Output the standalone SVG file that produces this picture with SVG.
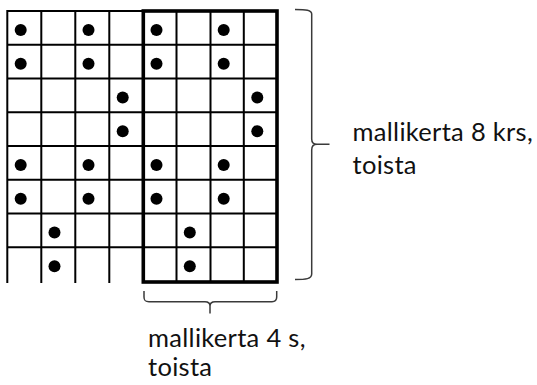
<svg xmlns="http://www.w3.org/2000/svg" width="537" height="385" viewBox="0 0 537 385">
<style>
.g{stroke:#000;stroke-width:2;fill:none}
.t{stroke:#000;stroke-width:3.6;fill:none}
.b{stroke:#3a3a3a;stroke-width:1.5;fill:none}
.d{fill:#000}
.lb{font-family:Lato,"Liberation Sans",sans-serif;font-size:25.5px;letter-spacing:0.3px;fill:#111}
</style>
<rect width="537" height="385" fill="#fff"/>
<g id="grid">
<path class="g" d="M7.3,11H143.3M7.3,44.75H277M7.3,78.5H277M7.3,112.25H277M7.3,146H277M7.3,179.75H277M7.3,213.5H277M7.3,247.25H277"/>
<path class="g" d="M7.3,10V283M41.3,11V283M75.3,11V283M109.3,11V283M176.5,11V281M210.5,11V281M243.8,11V281"/>
<rect class="t" x="143.3" y="11" width="133.7" height="271"/>
</g>
<g id="dots" class="d">
<circle cx="20.7" cy="30" r="6"/><circle cx="88.5" cy="30" r="6"/><circle cx="156.5" cy="30" r="6"/><circle cx="223.7" cy="30" r="6"/>
<circle cx="20.7" cy="63.7" r="6"/><circle cx="88.5" cy="63.7" r="6"/><circle cx="156.5" cy="63.7" r="6"/><circle cx="223.7" cy="63.7" r="6"/>
<circle cx="122.7" cy="97.5" r="6"/><circle cx="257.3" cy="97.5" r="6"/>
<circle cx="122.7" cy="131.2" r="6"/><circle cx="257.3" cy="131.2" r="6"/>
<circle cx="20.7" cy="165" r="6"/><circle cx="88.5" cy="165" r="6"/><circle cx="156.5" cy="165" r="6"/><circle cx="223.7" cy="165" r="6"/>
<circle cx="20.7" cy="198.8" r="6"/><circle cx="88.5" cy="198.8" r="6"/><circle cx="156.5" cy="198.8" r="6"/><circle cx="223.7" cy="198.8" r="6"/>
<circle cx="54.5" cy="232.6" r="6"/><circle cx="189.8" cy="232.6" r="6"/>
<circle cx="54.5" cy="266.2" r="6"/><circle cx="189.8" cy="266.2" r="6"/>
</g>
<g id="braces">
<path class="b" d="M295,9.5C306,9.5 311.7,10 311.7,14V139C311.7,142.5 313,144.3 317,144.3H329.5M317,144.3C313,144.3 311.7,146 311.7,150V274C311.7,279 306,279.5 295,279.5"/>
<path class="b" d="M144,291V297C144,300.5 145,301.7 149,301.7H205C208.5,301.7 210,303 210,306V313.5M210,306C210,303 211.5,301.7 215,301.7H272C275.5,301.7 276.7,300.5 276.7,297V291"/>
</g>
<g id="labels">
<text class="lb" x="352.5" y="141">mallikerta 8 krs,</text>
<text class="lb" x="352.5" y="173.5">toista</text>
<text class="lb" x="148" y="346.5">mallikerta 4 s,</text>
<text class="lb" x="148" y="376">toista</text>
</g>
</svg>
